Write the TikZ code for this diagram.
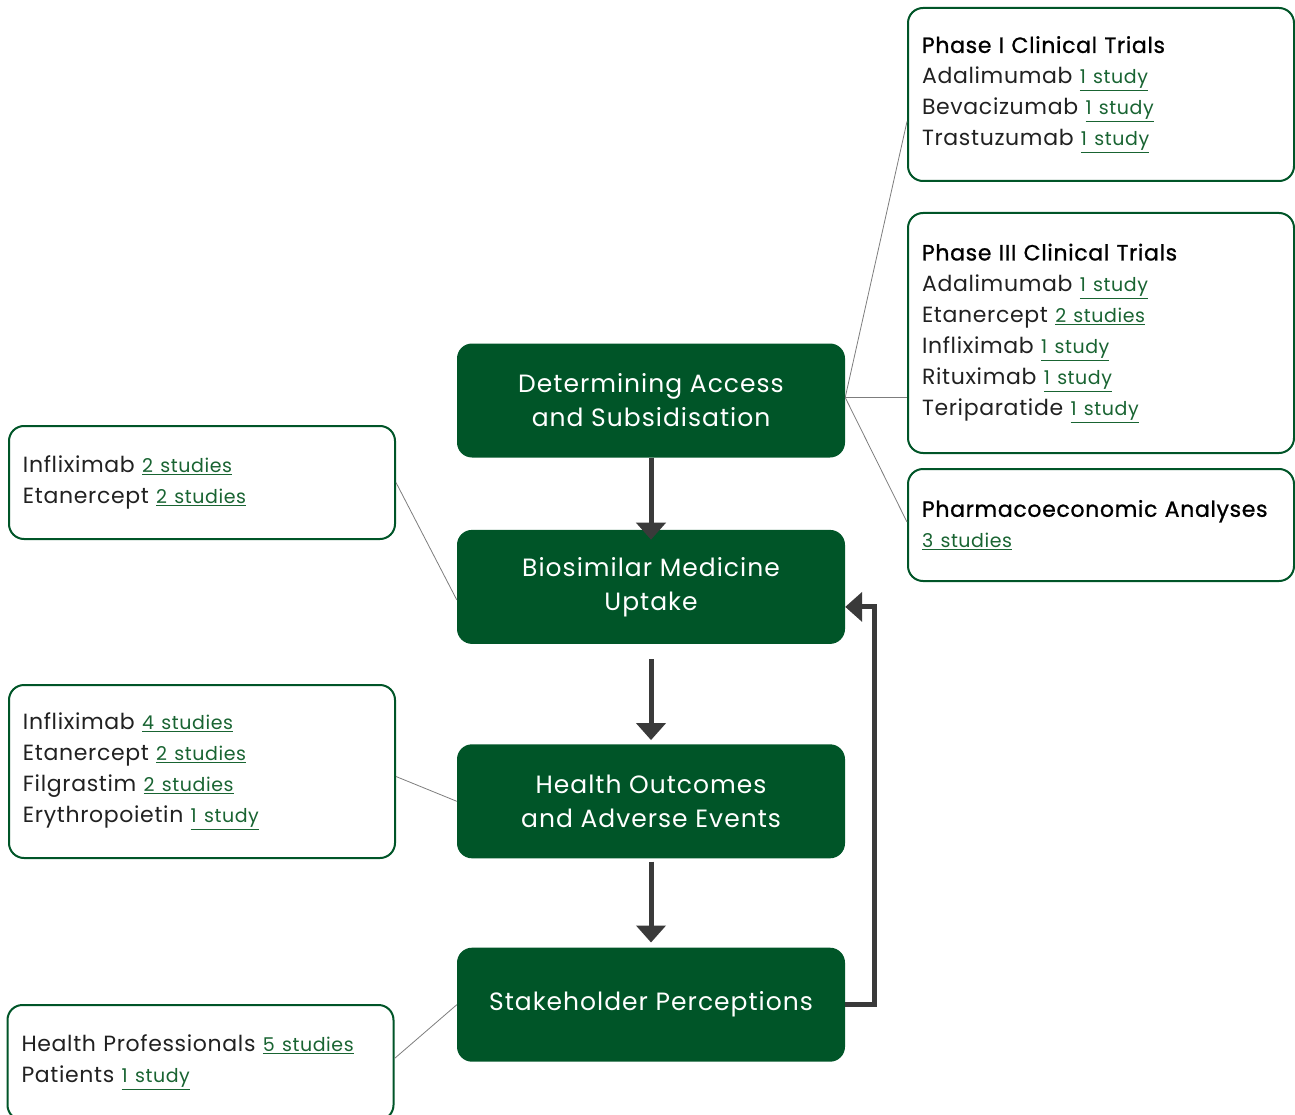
\documentclass[tikz,border=0pt]{standalone}
\usepackage{fontspec}
\setmainfont[LetterSpace=3]{Poppins}
\newfontfamily\headfont[FakeBold=1, LetterSpace=3]{Poppins}
\usetikzlibrary{arrows.meta, positioning, calc}
\definecolor{boxgreen}{RGB}{0,85,40}
\definecolor{linkgreen}{RGB}{25,100,50}
\definecolor{arrowgray}{RGB}{58,58,58}
\definecolor{linegray}{RGB}{125,125,125}
\newcommand{\nstud}[1]{{\fontsize{19}{31}\selectfont\color{linkgreen}\underline{#1}}}
\newcommand{\dhead}[1]{{\headfont\color{black}#1}}

\begin{document}
\begin{tikzpicture}[
    x=1pt, y=-1pt,
    stage/.style={
        rectangle, fill=boxgreen, rounded corners=15pt,
        minimum width=388pt, minimum height=114pt,
        text=white, align=center,
        font=\fontsize{25}{34}\selectfont\addfontfeature{LetterSpace=4}
    },
    detail/.style={
        rectangle, draw=boxgreen, line width=2pt, fill=white,
        rounded corners=15pt, text width=358pt, inner xsep=14pt,
        align=left, text=black!87, font=\fontsize{22}{31}\selectfont
    },
    flow/.style={-{Triangle[length=17pt, width=29pt]}, line width=5pt, arrowgray},
    link/.style={linegray, line width=0.8pt}
]
    \useasboundingbox (0,0) rectangle (1295,1115);

    % main chain
    \node[stage] (access) at (651,400.5) {Determining Access\\and Subsidisation};
    \node[stage, below=72pt of access] (uptake) {Biosimilar Medicine\\Uptake};
    \node[stage, below=100pt of uptake] (outcomes) {Health Outcomes\\and Adverse Events};
    \node[stage, below=89pt of outcomes] (views) {Stakeholder Perceptions};

    % right column
    \node[detail, minimum height=173pt] (phaseI) at (1101,94.5)
        {\dhead{Phase I Clinical Trials}\\
         Adalimumab \nstud{1 study}\\
         Bevacizumab \nstud{1 study}\\
         Trastuzumab \nstud{1 study}};
    \node[detail, minimum height=240pt, below=30pt of phaseI] (phaseIII)
        {\dhead{Phase III Clinical Trials}\\
         Adalimumab \nstud{1 study}\\
         Etanercept \nstud{2 studies}\\
         Infliximab \nstud{1 study}\\
         Rituximab \nstud{1 study}\\
         Teriparatide \nstud{1 study}};
    \node[detail, minimum height=112pt, below=14pt of phaseIII] (pharmaco)
        {\dhead{Pharmacoeconomic Analyses}\\
         \nstud{3 studies}};

    % left column
    \node[detail, minimum height=113pt] (uptakeref) at (202,482.5)
        {Infliximab \nstud{2 studies}\\
         Etanercept \nstud{2 studies}};
    \node[detail, minimum height=173pt] (outcomeref) at (202,771.5)
        {Infliximab \nstud{4 studies}\\
         Etanercept \nstud{2 studies}\\
         Filgrastim \nstud{2 studies}\\
         Erythropoietin \nstud{1 study}};
    \node[detail, minimum height=115pt] (viewref) at (200.5,1062.5)
        {Health Professionals \nstud{5 studies}\\
         Patients \nstud{1 study}};

    \coordinate (hub) at ([yshift=3pt]access.east);

    \draw[flow] (access.south) -- ([yshift=-10pt]uptake.north);
    \draw[flow] ([yshift=-15pt]uptake.south) -- ([yshift=4pt]outcomes.north);
    \draw[flow] ([yshift=-3pt]outcomes.south) -- ([yshift=5pt]views.north);
    \draw[flow] (views.east) -- ++(29,0) |- ([yshift=-20pt]uptake.east);

    \draw[link] (hub) -- ([yshift=-27pt]phaseI.west);
    \draw[link] (hub) -- (hub -| phaseIII.west);
    \draw[link] (hub) -- ([yshift=3pt]pharmaco.west);
    \draw[link] (uptakeref.east) -- ([yshift=-13pt]uptake.west);
    \draw[link] ([yshift=-5pt]outcomeref.east) -- (outcomes.west);
    \draw[link] ([yshift=4pt]viewref.east) -- (views.west);
\end{tikzpicture}
\end{document}
